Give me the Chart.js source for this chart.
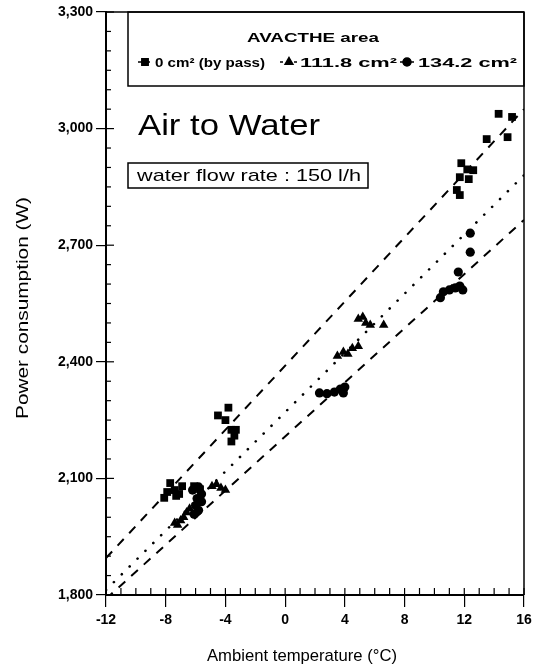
<!DOCTYPE html>
<html>
<head>
<meta charset="utf-8">
<script src="https://cdn.jsdelivr.net/npm/chart.js@4.4.0/dist/chart.umd.min.js"></script>
<style>
    html, body { margin: 0; padding: 0; background: #fff; }
</style>
</head>
<body>
<canvas id="powerChart" width="550" height="671"></canvas>
<script>
// Axis ticks
const xTicks = [-12, -8, -4, 0, 4, 8, 12, 16];
const yTicks = [1800, 2100, 2400, 2700, 3000, 3300];

// 0 cm2 (by pass) - squares
const bypassTemp  = [-8.1, -7.9, -7.7, -7.4, -7.3, -7.1, -6.9, -6.1, -5.7, -4.5, -3.8, -4.0, -3.6, -3.4, -3.6, -3.3, 11.5, 11.7, 11.7, 11.8, 12.2, 12.6, 12.3, 13.5, 14.3, 14.9, 15.2];
const bypassPower = [2050, 2065, 2088, 2070, 2055, 2060, 2080, 2080, 2072, 2262, 2282, 2250, 2225, 2210, 2195, 2225, 2842, 2829, 2875, 2911, 2895, 2893, 2870, 2973, 3038, 2978, 3030];

// 111.8 cm2 - triangles
const area1Temp  = [-7.4, -7.2, -7.0, -6.8, -6.6, -6.4, -4.9, -4.6, -4.3, -4.0, 3.5, 3.9, 4.2, 4.5, 4.9, 4.9, 5.2, 5.4, 5.7, 6.6];
const area1Power = [1985, 1980, 1992, 2000, 2012, 2022, 2080, 2085, 2075, 2070, 2415, 2425, 2420, 2435, 2440, 2510, 2515, 2500, 2495, 2495];

// 134.2 cm2 - circles
const area2Temp  = [-6.2, -5.8, -5.6, -5.9, -5.6, -6.0, -5.8, -6.1, 2.3, 2.8, 3.3, 3.7, 4.0, 3.9, 10.4, 10.6, 11.0, 11.4, 11.7, 11.9, 11.6, 12.4, 12.4];
const area2Power = [2070, 2078, 2060, 2048, 2040, 2030, 2018, 2008, 2320, 2318, 2322, 2330, 2335, 2320, 2565, 2580, 2585, 2590, 2595, 2585, 2631, 2682, 2731];

// Fit lines (end points)
const fitTemp   = [-12, 16];
const fitUpper  = [1895, 3050];
const fitDotted = [1813, 2880];
const fitLower  = [1790, 2765];

const FONT = '"Liberation Sans", Arial, sans-serif';

const toPoints = (xs, ys) => xs.map((x, i) => ({ x: x, y: ys[i] }));

// texte étiré horizontalement pour coller à la largeur de l'original
function fitText(ctx, str, x, y, font, width, align, rotate) {
    ctx.save();
    ctx.font = font;
    const w = ctx.measureText(str).width;
    const sx = width ? width / w : 1;
    ctx.translate(x, y);
    if (rotate) ctx.rotate(rotate);
    ctx.scale(sx, 1);
    ctx.textAlign = align || 'left';
    ctx.textBaseline = 'alphabetic';
    ctx.fillText(str, 0, 0);
    ctx.restore();
}

function line(ctx, x1, y1, x2, y2) {
    ctx.beginPath();
    ctx.moveTo(x1, y1);
    ctx.lineTo(x2, y2);
    ctx.stroke();
}

const extras = {
    id: 'extras',
    afterDraw(chart) {
        const ctx = chart.ctx;
        const a = chart.chartArea;
        const xs = chart.scales.x;
        const ys = chart.scales.y;
        ctx.save();
        ctx.strokeStyle = '#000';
        ctx.fillStyle = '#000';

        // cadre haut / droite
        ctx.lineWidth = 1.5;
        line(ctx, a.left, a.top, a.right, a.top);
        line(ctx, a.right, a.top, a.right, a.bottom);

        // graduations intérieures
        ctx.lineWidth = 1.2;
        for (let t = -12; t <= 16; t++) {
            const px = xs.getPixelForValue(t);
            line(ctx, px, a.bottom, px, a.bottom - 7);
        }
        for (let w = 1800; w <= 3300; w += 50) {
            const py = ys.getPixelForValue(w);
            line(ctx, a.left, py, a.left + (w % 300 === 0 ? 8 : 5), py);
        }

        // titres des axes
        fitText(ctx, 'Ambient temperature (°C)', 302, 661, '17px ' + FONT, 190, 'center');
        fitText(ctx, 'Power consumption (W)', 28, 308, '17px ' + FONT, 222, 'center', -Math.PI / 2);

        // légende
        const lx1 = a.left + 22, ly1 = a.top, lx2 = a.right, ly2 = a.top + 74;
        ctx.lineWidth = 1.5;
        ctx.strokeRect(lx1, ly1, lx2 - lx1, ly2 - ly1);
        fitText(ctx, 'AVACTHE area', 313, 42, 'bold 13px ' + FONT, 132, 'center');

        const ey = 62;
        ctx.lineWidth = 1.5;
        line(ctx, 138, ey, 150, ey);
        Chart.helpers.drawPoint(ctx, { pointStyle: 'rect', radius: 4.5, borderWidth: 1 }, 145, ey);
        ctx.fill();
        fitText(ctx, '0 cm² (by pass)', 155, ey + 5, 'bold 12px ' + FONT, 110);

        line(ctx, 280, ey, 283, ey);
        line(ctx, 294, ey, 297, ey);
        Chart.helpers.drawPoint(ctx, { pointStyle: 'triangle', radius: 4.5, borderWidth: 1 }, 289, ey);
        ctx.fill();
        fitText(ctx, '111.8 cm²', 300, ey + 5, 'bold 12px ' + FONT, 97);

        line(ctx, 400, ey, 414, ey);
        Chart.helpers.drawPoint(ctx, { pointStyle: 'circle', radius: 4, borderWidth: 1 }, 407, ey);
        ctx.fill();
        fitText(ctx, '134.2 cm²', 418, ey + 5, 'bold 12px ' + FONT, 99);

        // titre
        fitText(ctx, 'Air to Water', 138, 135, '30px ' + FONT, 182);

        // débit d'eau
        ctx.lineWidth = 1.5;
        ctx.strokeRect(128, 163, 240, 25);
        fitText(ctx, 'water flow rate : 150 l/h', 137, 181, '17px ' + FONT, 224);

        ctx.restore();
    }
};

const ctx = document.getElementById('powerChart');

new Chart(ctx, {
    type: 'scatter',
    data: {
        datasets: [{
            label: '0 cm² (by pass)',
            data: toPoints(bypassTemp, bypassPower),
            pointStyle: 'rect',
            pointRadius: 5.5,
            backgroundColor: '#000',
            borderColor: '#000',
            borderWidth: 0
        }, {
            label: '111.8 cm²',
            data: toPoints(area1Temp, area1Power),
            pointStyle: 'triangle',
            pointRadius: 5.5,
            backgroundColor: '#000',
            borderColor: '#000',
            borderWidth: 0
        }, {
            label: '134.2 cm²',
            data: toPoints(area2Temp, area2Power),
            pointStyle: 'circle',
            pointRadius: 4.6,
            backgroundColor: '#000',
            borderColor: '#000',
            borderWidth: 0
        }, {
            label: 'upper fit',
            data: toPoints(fitTemp, fitUpper),
            showLine: true,
            pointRadius: 0,
            borderColor: '#000',
            borderWidth: 2,
            borderDash: [9, 8]
        }, {
            label: 'mean fit',
            data: toPoints(fitTemp, fitDotted),
            showLine: true,
            pointRadius: 0,
            borderColor: '#000',
            borderWidth: 2.6,
            borderCapStyle: 'round',
            borderDash: [0.1, 11]
        }, {
            label: 'lower fit',
            data: toPoints(fitTemp, fitLower),
            showLine: true,
            pointRadius: 0,
            borderColor: '#000',
            borderWidth: 2,
            borderDash: [9, 8]
        }]
    },
    options: {
        responsive: false,
        animation: false,
        devicePixelRatio: 1,
        layout: {
            padding: { left: 0, right: 26, top: 12, bottom: 0 }
        },
        plugins: {
            legend: { display: false },
            tooltip: { enabled: false }
        },
        scales: {
            x: {
                type: 'linear',
                min: -12,
                max: 16,
                afterBuildTicks: (scale) => { scale.ticks = xTicks.map(v => ({ value: v })); },
                afterFit: (scale) => { scale.height = 76; },
                ticks: {
                    color: '#000',
                    font: { family: FONT, size: 14, weight: 'bold' },
                    padding: 5,
                    maxRotation: 0
                },
                grid: {
                    drawOnChartArea: false,
                    drawTicks: true,
                    tickLength: 12,
                    color: '#000',
                    lineWidth: 1.2
                },
                border: { display: true, color: '#000', width: 2 }
            },
            y: {
                type: 'linear',
                min: 1800,
                max: 3300,
                afterBuildTicks: (scale) => { scale.ticks = yTicks.map(v => ({ value: v })); },
                afterFit: (scale) => { scale.width = 106; },
                ticks: {
                    color: '#000',
                    font: { family: FONT, size: 14, weight: 'bold' },
                    padding: 3,
                    callback: (v) => v.toLocaleString('en-US')
                },
                grid: {
                    drawOnChartArea: false,
                    drawTicks: true,
                    tickLength: 10,
                    color: '#000',
                    lineWidth: 1.2
                },
                border: { display: true, color: '#000', width: 2 }
            }
        }
    },
    plugins: [extras]
});
</script>
</body>
</html>
